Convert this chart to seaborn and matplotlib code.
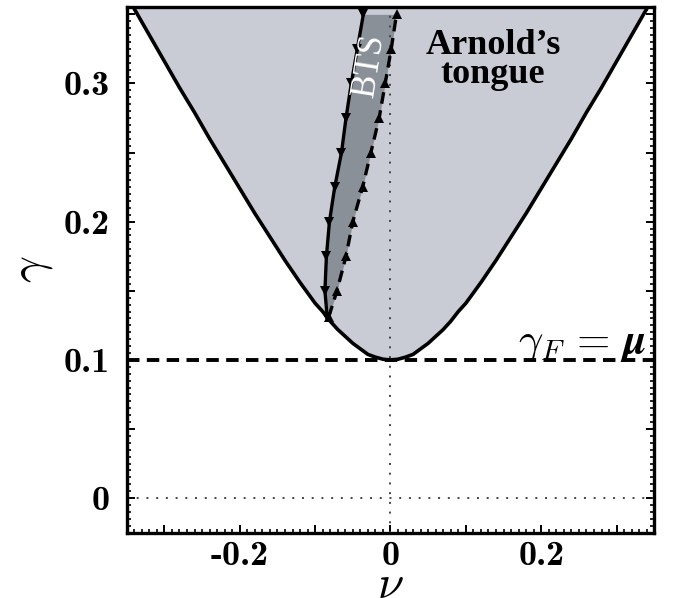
import numpy as np
import matplotlib
matplotlib.use("Agg")
import matplotlib.pyplot as plt
from matplotlib.ticker import MultipleLocator
import seaborn as sns

# curva de la lengua de Arnold (mitad derecha)
nu_half = [0.00, 0.01, 0.02, 0.03, 0.04, 0.05, 0.06, 0.07, 0.08, 0.09, 0.10,
           0.12, 0.14, 0.16, 0.18, 0.20, 0.22, 0.24, 0.26, 0.28, 0.30, 0.32,
           0.34, 0.36]
gamma_half = [0.100, 0.1005, 0.102, 0.104, 0.108, 0.112, 0.117, 0.122, 0.128,
              0.135, 0.141, 0.156, 0.172, 0.189, 0.206, 0.224, 0.242, 0.260,
              0.279, 0.297, 0.316, 0.335, 0.354, 0.374]

# region BTS: dos ramas, nu en funcion de gamma
gamma_bts = [0.131, 0.15, 0.175, 0.20, 0.225, 0.25, 0.275, 0.30, 0.325, 0.35]
nu_bts_solida = [-0.084, -0.087, -0.085, -0.081, -0.074, -0.065, -0.059,
                 -0.052, -0.044, -0.036]
nu_bts_rayada = [-0.082, -0.071, -0.059, -0.050, -0.037, -0.026, -0.015,
                 -0.007, 0.001, 0.008]

gamma_F = 0.1

xtick_labels = ["-0.2", "0", "0.2"]
ytick_labels = ["0", "0.1", "0.2", "0.3"]

nu = np.concatenate([-np.array(nu_half[::-1]), np.array(nu_half[1:])])
gamma = np.concatenate([np.array(gamma_half[::-1]), np.array(gamma_half[1:])])

sns.set_style("ticks")
plt.rcParams["font.family"] = ["DejaVu Serif"]
plt.rcParams["mathtext.fontset"] = "cm"
plt.rcParams["text.color"] = "black"
plt.rcParams["axes.labelcolor"] = "black"
plt.rcParams["xtick.color"] = "black"
plt.rcParams["ytick.color"] = "black"

fig = plt.figure(figsize=(6.75, 5.98), dpi=100)
ax = fig.add_axes([0.1877, 0.1092, 0.7816, 0.8796])

ymin, ymax = -0.025, 0.3555
xmin, xmax = -0.35, 0.35

# relleno de la lengua y de la zona BTS
ax.fill_between(nu, gamma, 0.40, color="#c9ccd4", lw=0, zorder=1)
ax.fill_betweenx(gamma_bts, nu_bts_solida, nu_bts_rayada, color="#8a9098",
                 lw=0, zorder=2)

# lineas punteadas de referencia
ax.axvline(0, color="#444444", lw=1.4, ls=(0, (1, 4)), zorder=3)
ax.axhline(0, color="#444444", lw=1.4, ls=(0, (1, 4)), zorder=3)

# gamma_F = mu
ax.axhline(gamma_F, color="black", lw=2.8, ls=(0, (3.2, 1.9)), zorder=4)

sns.lineplot(x=nu, y=gamma, sort=False, color="black", lw=2.6, ax=ax,
             zorder=5)
sns.lineplot(x=nu_bts_solida, y=gamma_bts, sort=False, color="black", lw=2.4,
             marker="v", markersize=6.5, markeredgewidth=0, ax=ax, zorder=6)
sns.lineplot(x=nu_bts_rayada, y=gamma_bts, sort=False, color="black", lw=2.4,
             linestyle=(0, (3.5, 2)), marker="^", markersize=6.5,
             markeredgewidth=0, ax=ax, zorder=6)

ax.set_xlim(xmin, xmax)
ax.set_ylim(ymin, ymax)

# ejes y marcas
ax.xaxis.set_minor_locator(MultipleLocator(0.01))
ax.yaxis.set_minor_locator(MultipleLocator(0.005))
ax.tick_params(which="both", direction="in", top=True, right=True,
               color="black")
ax.tick_params(which="major", length=6, width=1.4)
ax.tick_params(which="minor", length=3, width=1.2)

ax.set_xticks([-0.3, -0.2, -0.1, 0, 0.1, 0.2, 0.3])
ax.set_xticklabels(["", xtick_labels[0], "", xtick_labels[1], "",
                    xtick_labels[2], ""])
ax.set_yticks([0, 0.05, 0.1, 0.15, 0.2, 0.25, 0.3, 0.35])
ax.set_yticklabels([ytick_labels[0], "", ytick_labels[1], "", ytick_labels[2],
                    "", ytick_labels[3], ""])
for lab in ax.get_xticklabels() + ax.get_yticklabels():
    lab.set_fontfamily("cmb10")
    lab.set_fontsize(26)
ax.tick_params(axis="x", pad=6)
ax.tick_params(axis="y", pad=12)

for s in ax.spines.values():
    s.set_linewidth(2.4)
    s.set_color("black")
    s.set_zorder(10)

ax.set_xlabel(r"$\nu$", fontsize=34)
ax.set_ylabel(r"$\gamma$", fontsize=34)
ax.xaxis.set_label_coords(0.5, -0.058)
ax.yaxis.set_label_coords(-0.135, 0.5)

# textos
ax.text(0.136, 0.317, "Arnold\u2019s\ntongue", family="Liberation Serif",
        weight="bold", fontsize=26, ha="center", va="center",
        linespacing=0.85, color="black", zorder=7)
ax.text(-0.028, 0.313, "BTS", family="Liberation Serif", color="white",
        fontsize=25, rotation=81, ha="center", va="center", zorder=7)
ax.text(0.340, 0.105, r"$\gamma_F\, =\, \boldsymbol{\mu}$", fontsize=31,
        ha="right", va="baseline", color="black", zorder=7)

fig.savefig("out.png", dpi=100)
